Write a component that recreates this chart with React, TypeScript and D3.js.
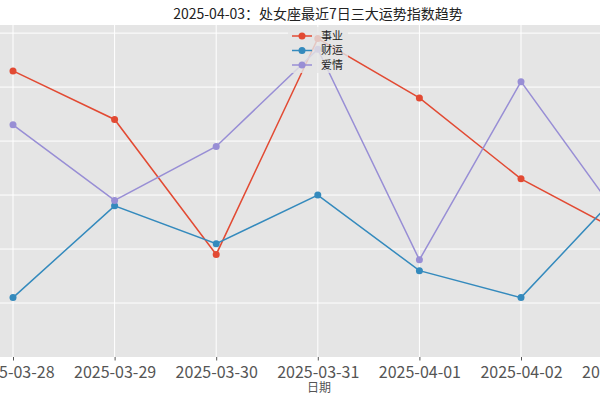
import React, { useEffect, useRef } from 'react'
import * as d3 from 'd3'

const dates = ['2025-03-28', '2025-03-29', '2025-03-30', '2025-03-31', '2025-04-01', '2025-04-02', '2025-04-03']
const career = [93, 84, 59, 99, 88, 73, 63]
const wealth = [51, 68, 61, 70, 56, 51, 71]
const love = [83, 69, 79, 97, 58, 91, 65]
const yTicks = [50, 60, 70, 80, 90, 100]

const seriesNames = ['事业', '财运', '爱情']
const colors = ['#E24A33', '#348ABD', '#988ED5']

const width = 600
const height = 400
const font = '"Noto Sans CJK SC", "Noto Sans", sans-serif'

const App = () => {
  const svgRef = useRef<SVGSVGElement>(null)

  useEffect(() => {
    const svg = d3.select(svgRef.current)
    svg.selectAll('*').remove()

    const top = 25
    const bottom = 357

    const x = d3.scalePoint<string>().domain(dates).range([13, 622.6])
    const y = d3.scaleLinear().domain([40, 101.5]).range([bottom, top])

    // plot background
    svg
      .append('rect')
      .attr('x', -20)
      .attr('y', top)
      .attr('width', 680)
      .attr('height', bottom - top)
      .attr('fill', '#E5E5E5')

    // grid
    svg
      .append('g')
      .selectAll('line')
      .data(yTicks)
      .enter()
      .append('line')
      .attr('x1', -20)
      .attr('x2', 660)
      .attr('y1', d => y(d))
      .attr('y2', d => y(d))
      .attr('stroke', '#ffffff')
      .attr('stroke-width', 1)

    svg
      .append('g')
      .selectAll('line')
      .data(dates)
      .enter()
      .append('line')
      .attr('x1', d => x(d))
      .attr('x2', d => x(d))
      .attr('y1', top)
      .attr('y2', bottom)
      .attr('stroke', '#ffffff')
      .attr('stroke-width', 1)

    // x axis
    const xAxis = d3.axisBottom(x).tickSize(3.5).tickPadding(6)
    const gx = svg
      .append('g')
      .attr('transform', `translate(0, ${bottom})`)
      .call(xAxis)
    gx.select('.domain').remove()
    gx.selectAll('line').attr('stroke', '#555555')
    gx.selectAll('text')
      .attr('fill', '#555555')
      .attr('font-family', font)
      .attr('font-size', 16)

    svg
      .append('text')
      .attr('x', 319)
      .attr('y', 392)
      .attr('text-anchor', 'middle')
      .attr('fill', '#555555')
      .attr('font-family', font)
      .attr('font-size', 12)
      .text('日期')

    svg
      .append('text')
      .attr('x', 318)
      .attr('y', 19)
      .attr('text-anchor', 'middle')
      .attr('fill', '#222222')
      .attr('font-family', font)
      .attr('font-size', 14)
      .text('2025-04-03：处女座最近7日三大运势指数趋势')

    const allSeries = [career, wealth, love]
    const line = d3
      .line<number>()
      .x((_, i) => x(dates[i]) as number)
      .y(d => y(d))

    allSeries.forEach((values, s) => {
      const g = svg.append('g')
      g.append('path')
        .datum(values)
        .attr('d', line)
        .attr('fill', 'none')
        .attr('stroke', colors[s])
        .attr('stroke-width', 1.5)
      g.selectAll('circle')
        .data(values)
        .enter()
        .append('circle')
        .attr('cx', (_, i) => x(dates[i]) as number)
        .attr('cy', d => y(d))
        .attr('r', 3.5)
        .attr('fill', colors[s])
    })

    // legend
    const legend = svg.append('g').attr('transform', 'translate(288, 27)')
    legend
      .append('rect')
      .attr('width', 60)
      .attr('height', 46)
      .attr('rx', 2)
      .attr('fill', '#E5E5E5')
      .attr('fill-opacity', 0.8)
    seriesNames.forEach((name, i) => {
      const cy = 9 + i * 14.5
      legend
        .append('line')
        .attr('x1', 4)
        .attr('x2', 24)
        .attr('y1', cy)
        .attr('y2', cy)
        .attr('stroke', colors[i])
        .attr('stroke-width', 1.5)
      legend
        .append('circle')
        .attr('cx', 14)
        .attr('cy', cy)
        .attr('r', 3.5)
        .attr('fill', colors[i])
      legend
        .append('text')
        .attr('x', 33)
        .attr('y', cy)
        .attr('dy', '0.35em')
        .attr('fill', '#222222')
        .attr('font-family', font)
        .attr('font-size', 11)
        .text(name)
    })
  }, [])

  return (
    <svg
      ref={svgRef}
      width={width}
      height={height}
      style={{ position: 'absolute', left: 0, top: 0, background: '#ffffff' }}
    />
  )
}

export default App
